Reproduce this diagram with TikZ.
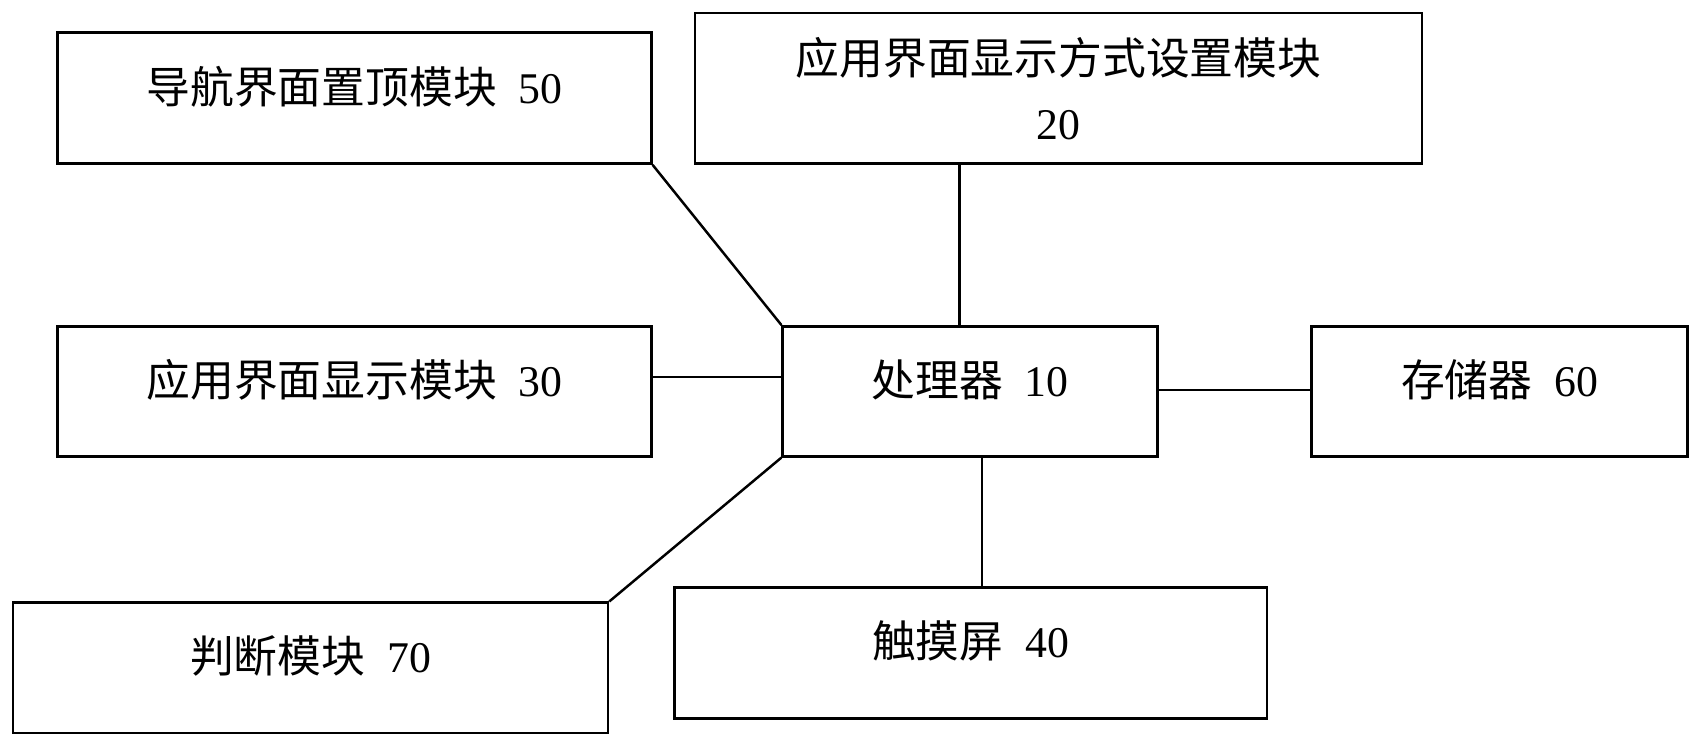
\documentclass[tikz,border=0pt]{standalone}
\usepackage{fontspec}
\setmainfont{Liberation Serif}
\newfontfamily\cjk{Noto Sans CJK SC}
\usetikzlibrary{positioning}
\tikzset{
  modbox/.style={draw, line width=1.3pt, inner sep=0pt, align=center,
    font=\fontsize{23}{34}\selectfont, text depth=0.5cm},
  link/.style={line width=1.3pt}
}
\begin{document}
\begin{tikzpicture}[x=0.02cm,y=-0.02cm]
\useasboundingbox (0,0) rectangle (1560,687);
% modules
\node[modbox, minimum width=10.96cm, minimum height=2.42cm] (nav) at (327,90.5) {{\cjk 导航界面置顶模块}\ \ 50};
\node[modbox, minimum width=13.42cm, minimum height=2.78cm, text depth=0pt] (mode) at (976.5,81.5) {{\cjk 应用界面显示方式设置模块}\\20};
\node[modbox, minimum width=10.96cm, minimum height=2.4cm] (show) at (327,361) {{\cjk 应用界面显示模块}\ \ 30};
\node[modbox, minimum width=6.92cm, minimum height=2.4cm] (cpu) at (895,361) {{\cjk 处理器}\ \ 10};
\node[modbox, minimum width=6.94cm, minimum height=2.4cm] (mem) at (1383.5,361) {{\cjk 存储器}\ \ 60};
\node[modbox, minimum width=10.98cm, minimum height=2.4cm] (judge) at (286.5,616) {{\cjk 判断模块}\ \ 70};
\node[modbox, minimum width=10.94cm, minimum height=2.42cm] (touch) at (895.5,602.5) {{\cjk 触摸屏}\ \ 40};
% links
\draw[link] (nav.south east) -- (cpu.north west);
\draw[link] (mode.south -| 885,0) -- (cpu.north -| 885,0);
\draw[link] (show.east |- 0,348) -- (cpu.west |- 0,348);
\draw[link] (cpu.east |- 0,360) -- (mem.west |- 0,360);
\draw[link] (cpu.south -| 906,0) -- (touch.north -| 906,0);
\draw[link] (cpu.south west) -- (judge.north east);
\end{tikzpicture}
\end{document}
